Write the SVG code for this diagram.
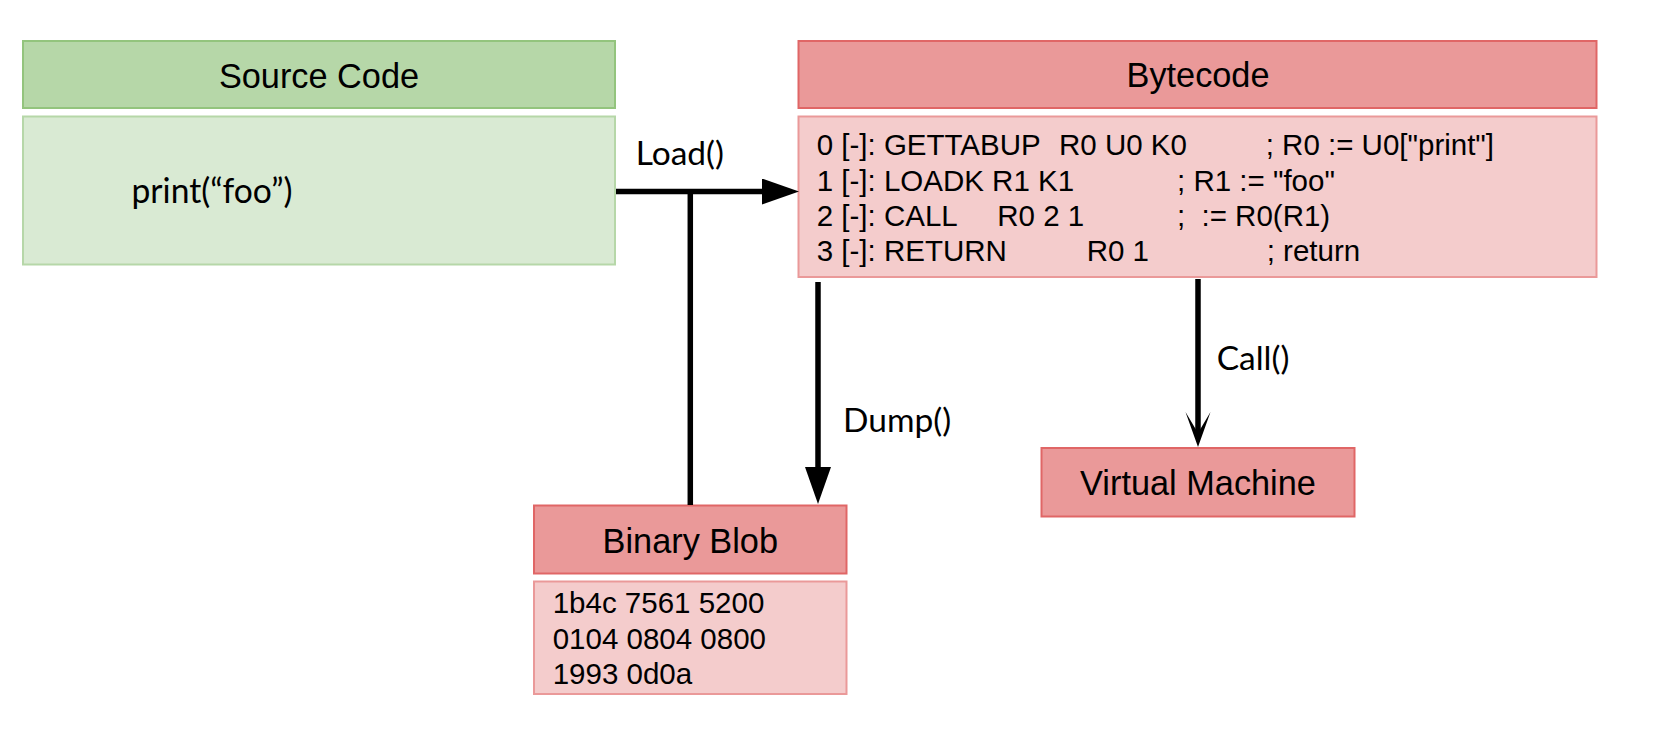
<svg xmlns="http://www.w3.org/2000/svg" width="1680" height="752" viewBox="0 0 1680 752">
<style>
.bg{fill:#ffffff}
.hdr-g{fill:#b6d7a8;stroke:#93c47d;stroke-width:2}
.body-g{fill:#d9ead3;stroke:#b6d7a8;stroke-width:2}
.hdr-r{fill:#ea9999;stroke:#e06666;stroke-width:2}
.body-r{fill:#f4cccc;stroke:#ea9999;stroke-width:2}
.title{font-family:"Liberation Sans",Arial,sans-serif;font-size:34.3px;fill:#000;text-anchor:middle}
.code{font-family:"Liberation Sans",Arial,sans-serif;font-size:29.5px;fill:#000}
.lbl{font-family:Lato,"Liberation Sans",sans-serif;font-size:33.5px;fill:#000}
.src{font-family:Lato,"Liberation Sans",sans-serif;font-size:35px;fill:#000}
.conn{stroke:#000;stroke-width:5.5;fill:none}
</style>
<defs>
<marker id="tri" markerUnits="userSpaceOnUse" markerWidth="37" markerHeight="26" viewBox="0 0 37 26" refX="7" refY="13" orient="auto">
<path d="M0,0 L37,13 L0,26 z" fill="#000"/>
</marker>
<marker id="stealth" markerUnits="userSpaceOnUse" markerWidth="35" markerHeight="26" viewBox="0 0 35 26" refX="25" refY="13" orient="auto">
<path d="M0,0.5 L35,13 L0,25.5 L21,13 z" fill="#000"/>
</marker>
</defs>
<rect class="bg" x="0" y="0" width="1680" height="752"/>

<g id="source-code">
<rect class="hdr-g" x="23" y="41" width="592" height="67"/>
<text class="title" x="319" y="87.5">Source Code</text>
<rect class="body-g" x="23" y="116.5" width="592" height="148"/>
<text class="src" x="131.5" y="203.3" textLength="161" lengthAdjust="spacingAndGlyphs">print(“foo”)</text>
</g>

<g id="bytecode">
<rect class="hdr-r" x="798.5" y="41" width="798" height="67"/>
<text class="title" x="1198" y="87">Bytecode</text>
<rect class="body-r" x="798.5" y="116.5" width="798" height="160.5"/>
<text class="code" y="155"><tspan x="816.7">0 [-]: GETTABUP</tspan><tspan x="1059">R0 U0 K0</tspan><tspan x="1265.7">; R0 := U0["print"]</tspan></text>
<text class="code" y="190.5"><tspan x="816.7">1 [-]: LOADK R1 K1</tspan><tspan x="1177">; R1 := "foo"</tspan></text>
<text class="code" y="225.5"><tspan x="816.7">2 [-]: CALL</tspan><tspan x="997.3">R0 2 1</tspan><tspan x="1177">;</tspan><tspan x="1201.5">:= R0(R1)</tspan></text>
<text class="code" y="260.5"><tspan x="816.7">3 [-]: RETURN</tspan><tspan x="1086.7">R0 1</tspan><tspan x="1266.7">; return</tspan></text>
</g>

<g id="binary-blob">
<rect class="hdr-r" x="534" y="505.5" width="312.5" height="68"/>
<text class="title" x="690.3" y="552.5">Binary Blob</text>
<rect class="body-r" x="534" y="581.5" width="312.5" height="112.5"/>
<text class="code" x="552.7" y="613">1b4c 7561 5200</text>
<text class="code" x="552.7" y="648.5">0104 0804 0800</text>
<text class="code" x="552.7" y="684">1993 0d0a</text>
</g>

<g id="virtual-machine">
<rect class="hdr-r" x="1041.5" y="448" width="313" height="68.5"/>
<text class="title" x="1198" y="494.5">Virtual Machine</text>
</g>

<g id="connectors">
<line class="conn" x1="616" y1="191.5" x2="769" y2="191.5" marker-end="url(#tri)"/>
<line class="conn" x1="690.3" y1="191.5" x2="690.3" y2="505"/>
<line class="conn" x1="818" y1="282" x2="818" y2="474" marker-end="url(#tri)"/>
<line class="conn" x1="1198" y1="279" x2="1198" y2="437" marker-end="url(#stealth)"/>
<text class="lbl" x="635.7" y="165">Load()</text>
<text class="lbl" x="843" y="432">Dump()</text>
<text class="lbl" x="1216.7" y="370">Call()</text>
</g>
</svg>
